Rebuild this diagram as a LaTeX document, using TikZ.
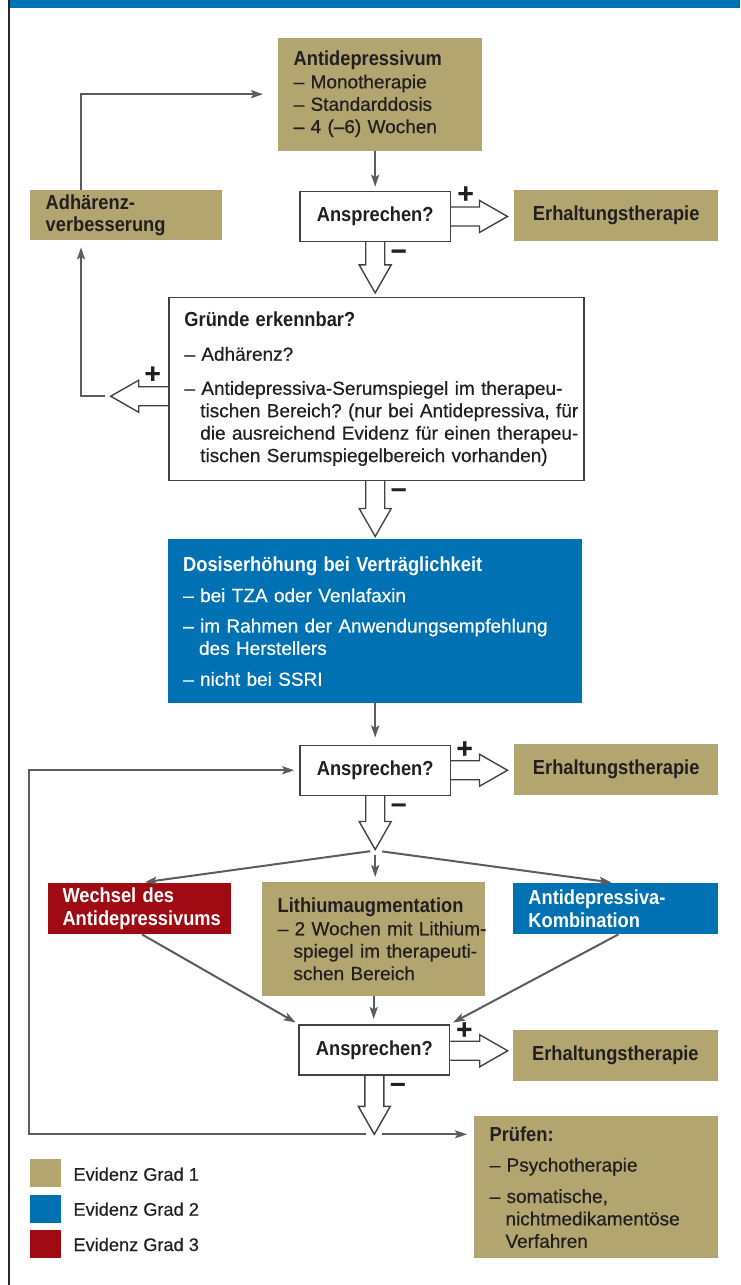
\documentclass[tikz,border=0pt]{standalone}
\usepackage{fontspec}
\setmainfont{Liberation Sans}[FakeBold=0.45]
\newfontfamily\hdfont{Liberation Sans}[FakeStretch=0.9]
\usepackage{tikz}
\usetikzlibrary{arrows.meta,calc}
\definecolor{dgtan}{HTML}{B2A570}
\definecolor{dgblue}{HTML}{0071B3}
\definecolor{dgred}{HTML}{A00A12}
\definecolor{dgline}{HTML}{5C5C5C}
\definecolor{dgframe}{HTML}{424242}
\definecolor{dgtext}{HTML}{231F20}
\frenchspacing
\newcommand{\hd}[1]{{\hdfont\fontsize{20.3}{22.4}\selectfont\bfseries #1}}
\newcommand{\ind}{\hspace*{15.8pt}}
% hollow block arrow from #1 to tip #2
\newcommand{\hollowarr}[2]{%
  \coordinate (hb) at ($(#2)!28pt!(#1)$);
  \draw[fc/hollow] ($(#1)!9.5pt!90:(#2)$) -- ($(hb)!9.5pt!90:(#2)$) -- ($(hb)!16pt!90:(#2)$) -- (#2)
    -- ($(hb)!16pt!-90:(#2)$) -- ($(hb)!9.5pt!-90:(#2)$) -- ($(#1)!9.5pt!-90:(#2)$);
}
\tikzset{
  fc/base/.style={anchor=north west, inner ysep=0pt, text=dgtext,
    font=\fontsize{19}{22.4}\selectfont},
  fc/tan/.style={fc/base, fill=dgtan, align=left, inner xsep=15.5pt},
  fc/blue/.style={fc/base, fill=dgblue, text=white, align=left, inner xsep=15.5pt},
  fc/red/.style={fc/base, fill=dgred, text=white, align=left, inner xsep=15pt},
  fc/ask/.style={fc/base, draw=dgframe, line width=1.5pt, fill=white,
    minimum width=150.5pt, minimum height=50pt, align=center, inner xsep=0pt},
  fc/wbox/.style={fc/base, draw=dgframe, line width=1.5pt, fill=white, align=left, inner xsep=15.5pt},
  fc/arr/.style={-{Stealth[length=12pt,width=8pt,inset=2.5pt]}, dgline, line width=2pt},
  fc/hollow/.style={dgframe, line width=1.4pt, line join=miter},
  fc/sign/.style={text=dgtext, inner sep=0pt, font=\fontsize{28}{28}\selectfont\bfseries},
  fc/key/.style={anchor=north west, minimum width=31pt, minimum height=28.5pt, inner sep=0pt},
  fc/keytext/.style={anchor=base west, inner sep=0pt, text=dgtext, font=\fontsize{18.2}{22}\selectfont}
}
\begin{document}
\begin{tikzpicture}[x=1pt, y=-1pt]
  \useasboundingbox (0,0) rectangle (740,1285);
  \fill[dgblue] (8,0) rectangle (740,7.5);
  \draw[black!85, line width=2pt] (9,0) -- (9,1285);

  % boxes
  \node[fc/tan, text width=173pt, minimum height=113pt] (anti) at (278,37.5)
    {\hd{Antidepressivum}\\– Monotherapie\\– Standarddosis\\– 4 (–6) Wochen};
  \node[fc/ask] (ans1) at (299.2,190.7) {\hd{Ansprechen?}};
  \node[fc/tan, minimum width=204pt, minimum height=51pt, align=center] (erh1) at (514,190)
    {\hd{Erhaltungstherapie}};
  \node[fc/tan, text width=161pt, minimum height=50pt] (adh) at (30,190)
    {\hd{Adhärenz-}\\\hd{verbesserung}};
  \node[fc/wbox, text width=384pt, minimum height=183pt] (gruende) at (168.2,296.7)
    {\hd{Gründe erkennbar?}\\[11.7pt]
     – Adhärenz?\\[11.7pt]
     \mbox{– Antidepressiva-Serumspiegel im therapeu-}\\
     \mbox{\ind tischen Bereich? (nur bei Antidepressiva, für}\\
     \mbox{\ind die ausreichend Evidenz für einen therapeu-}\\
     \mbox{\ind tischen Serumspiegelbereich vorhanden)}};
  \node[fc/blue, text width=383pt, minimum height=164pt] (dosis) at (167.5,539)
    {\hd{Dosiserhöhung bei Verträglichkeit}\\[8.5pt]
     – bei TZA oder Venlafaxin\\[8pt]
     \mbox{– im Rahmen der Anwendungsempfehlung}\\
     \ind des Herstellers\\[8.5pt]
     – nicht bei SSRI};
  \node[fc/ask] (ans2) at (299.2,744.5) {\hd{Ansprechen?}};
  \node[fc/tan, minimum width=204pt, minimum height=51pt, align=center] (erh2) at (514,744)
    {\hd{Erhaltungstherapie}};
  \node[fc/red, text width=153pt, minimum height=51pt] (wechsel) at (47.3,883)
    {\hd{Wechsel des}\\\hd{Antidepressivums}};
  \node[fc/tan, text width=192pt, minimum height=114pt] (lithium) at (262,882)
    {\hd{Lithiumaugmentation}\\\mbox{– 2 Wochen mit Lithium-}\\
     \mbox{\ind spiegel im therapeuti-}\\\mbox{\ind schen Bereich}};
  \node[fc/blue, text width=174pt, minimum height=51pt] (kombi) at (512.7,883)
    {\hd{Antidepressiva-}\\\hd{Kombination}};
  \node[fc/ask] (ans3) at (298.3,1024) {\hd{Ansprechen?}};
  \node[fc/tan, minimum width=205pt, minimum height=51pt, align=center] (erh3) at (512.7,1030)
    {\hd{Erhaltungstherapie}};
  \node[fc/tan, text width=213pt, minimum height=142pt] (pruefen) at (474,1116)
    {\hd{Prüfen:}\\[8pt]
     – Psychotherapie\\[9pt]
     – somatische,\\
     \mbox{\ind nichtmedikamentöse}\\
     \ind Verfahren};

  % legend
  \node[fc/key, fill=dgtan] (key1) at (30,1158.3) {};
  \node[fc/key, fill=dgblue] (key2) at (30,1194.3) {};
  \node[fc/key, fill=dgred] (key3) at (30,1229.3) {};
  \node[fc/keytext] (key1t) at (73.3,1180.7) {Evidenz Grad 1};
  \node[fc/keytext] (key2t) at (73.3,1215.7) {Evidenz Grad 2};
  \node[fc/keytext] (key3t) at (73.3,1251) {Evidenz Grad 3};

  % thin arrows
  \draw[fc/arr, shorten >=4pt] (anti.south -| ans1.north) -- (ans1.north);
  \draw[fc/arr, shorten >=15pt] ($(adh.north west)+(51,0)$) |- (anti.west);
  \draw[fc/arr, shorten >=7pt] (dosis.south -| ans2.north) -- (ans2.north);

  % block arrows
  \coordinate (t1) at ($(ans1.south |- gruende.north)+(0,-3.8)$);
  \hollowarr{ans1.south}{t1}
  \coordinate (gd) at (gruende.south -| ans1.south);
  \coordinate (t2) at ($(ans1.south |- dosis.north)+(0,-2.5)$);
  \hollowarr{gd}{t2}
  \coordinate (t3) at ($(ans2.south)+(0,53.5)$);
  \hollowarr{ans2.south}{t3}
  \coordinate (t4) at ($(ans3.south)+(0,58.8)$);
  \hollowarr{ans3.south}{t4}
  \coordinate (r1) at ($(ans1.east -| erh1.west)+(-6.5,0)$);
  \hollowarr{ans1.east}{r1}
  \coordinate (r2) at ($(ans2.east -| erh2.west)+(-6.5,0)$);
  \hollowarr{ans2.east}{r2}
  \coordinate (r3) at ($(ans3.east -| erh3.west)+(-5,1)$);
  \coordinate (r3s) at ($(ans3.east)+(0,1)$);
  \hollowarr{r3s}{r3}
  \coordinate (gl) at ($(gruende.west)+(0,7.3)$);
  \coordinate (gltip) at ($(gl)+(-57.5,0)$);
  \hollowarr{gl}{gltip}

  % loops and branches
  \draw[fc/arr, shorten >=7pt] ($(gltip)+(-6,0)$) -| ($(adh.south west)+(51,0)$);
  \draw[fc/arr, shorten <=5pt, shorten >=6pt] ($(t3)+(0,1)$) -- (wechsel.north);
  \draw[fc/arr, shorten <=5pt, shorten >=5pt] (t3) -- (t3 |- lithium.north);
  \draw[fc/arr, shorten <=7pt, shorten >=4pt] ($(t3)+(0,1)$) -- (kombi.north);
  \draw[fc/arr, shorten >=3pt] ($(wechsel.south)+(3,0)$) -- (ans3.north west);
  \draw[fc/arr, shorten >=5pt] (lithium.south) -- (lithium.south |- ans3.north);
  \draw[fc/arr, shorten >=3pt] ($(kombi.south)+(3,0)$) -- (ans3.north east);
  \coordinate (rail) at (29,0);
  \draw[fc/arr, shorten <=8pt, shorten >=7pt] (t4) -- (t4 -| pruefen.west);
  \draw[fc/arr, shorten >=5pt] ($(t4)+(-8,0)$) -- (t4 -| rail) |- (ans2.west);

  % signs
  \node[fc/sign] (plus1) at ($(ans1.north east)+(14.5,4)$) {+};
  \node[fc/sign] (minus1) at ($(ans1.south)+(23.5,12)$) {–};
  \node[fc/sign] (plus2) at ($(gl)+(-15.5,-21.5)$) {+};
  \node[fc/sign] (minus2) at ($(gd)+(23.5,11.5)$) {–};
  \node[fc/sign] (plus3) at ($(ans2.north east)+(13.5,5)$) {+};
  \node[fc/sign] (minus3) at ($(ans2.south)+(23.5,12)$) {–};
  \node[fc/sign] (plus4) at ($(ans3.north east)+(14,6.5)$) {+};
  \node[fc/sign] (minus4) at ($(ans3.south)+(23.5,12)$) {–};
\end{tikzpicture}
\end{document}
